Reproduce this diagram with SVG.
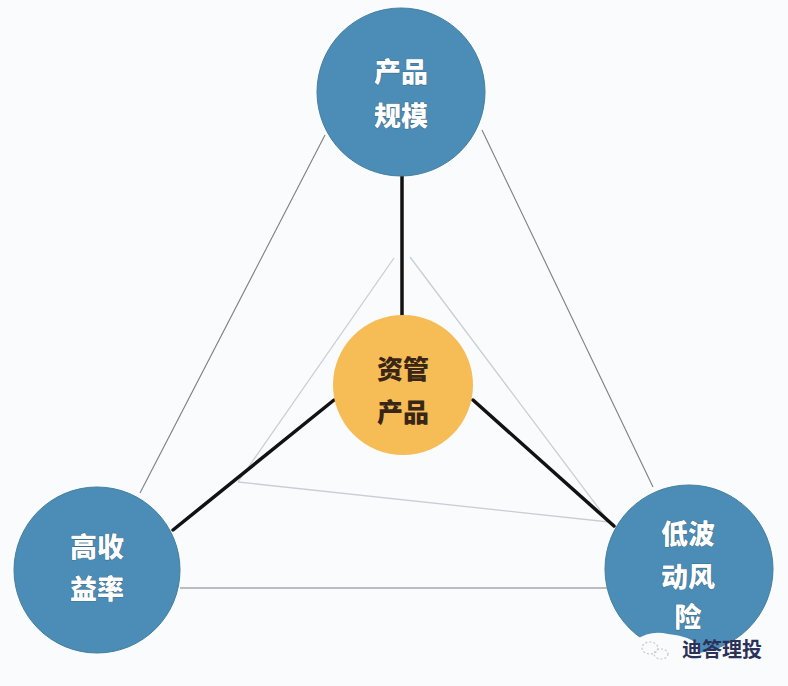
<svg xmlns="http://www.w3.org/2000/svg" width="788" height="686" viewBox="0 0 788 686">
<style>
.outer{stroke:#7a7f88;stroke-width:1.1;fill:none}
.inner{stroke:#c9ced6;stroke-width:1.3;fill:none}
.spoke{stroke:#121212;stroke-width:3.5;fill:none;stroke-linecap:round}
.blue{fill:#4b8db6;stroke:#44809f;stroke-width:1}
.yellow{fill:#f6bd57}
.wt{font-family:"Noto Sans CJK SC","Noto Sans",sans-serif;font-weight:900;font-size:27px;fill:#ffffff;text-anchor:middle;stroke:#2d5570;stroke-width:0.7;paint-order:stroke}
.dt{font-family:"Noto Sans CJK SC","Noto Sans",sans-serif;font-weight:900;font-size:26px;fill:#3a2616;text-anchor:middle}
.wm{font-family:"Noto Sans CJK SC","Noto Sans",sans-serif;font-weight:700;font-size:20px;fill:#2b3158}
</style>
<rect width="788" height="686" fill="#f9fbfc"/>
<g id="connectors">
<line class="outer" x1="325" y1="135" x2="140" y2="493"/>
<line class="outer" x1="482" y1="130" x2="653" y2="487"/>
<line class="outer" x1="180" y1="588" x2="607" y2="588"/>
<line class="inner" x1="394" y1="258" x2="238" y2="482"/>
<line class="inner" x1="410" y1="257" x2="609" y2="522"/>
<line class="inner" x1="238" y1="482" x2="609" y2="522"/>
<line class="spoke" x1="402" y1="176" x2="402" y2="316"/>
<line class="spoke" x1="334" y1="400" x2="173" y2="530"/>
<line class="spoke" x1="473" y1="400" x2="614" y2="526"/>
</g>
<g id="node-top">
<circle class="blue" cx="401" cy="92" r="84"/>
<text class="wt" x="401" y="82">产品</text>
<text class="wt" x="401" y="126">规模</text>
</g>
<g id="node-left">
<circle class="blue" cx="97" cy="570" r="83"/>
<text class="wt" x="97" y="557">高收</text>
<text class="wt" x="97" y="599">益率</text>
</g>
<g id="node-right">
<circle class="blue" cx="689" cy="569" r="84"/>
<text class="wt" x="688" y="544">低波</text>
<text class="wt" x="688" y="587">动风</text>
<text class="wt" x="688" y="627">险</text>
</g>
<g id="node-center">
<circle class="yellow" cx="403" cy="385" r="70"/>
<text class="dt" x="403" y="379">资管</text>
<text class="dt" x="403" y="422">产品</text>
</g>
<g id="watermark">
<path d="M636,640 Q650,630 668,634 Q690,636 700,646 L700,660 L636,660 Z" fill="#f9fbfc"/>
<ellipse cx="650" cy="648" rx="8" ry="6" fill="none" stroke="#c4c8cf" stroke-width="1.2" stroke-dasharray="2 2"/>
<ellipse cx="661" cy="654" rx="7" ry="5" fill="none" stroke="#c4c8cf" stroke-width="1.2" stroke-dasharray="2 2"/>
<text class="wm" x="682" y="657">迪答理投</text>
</g>
</svg>
